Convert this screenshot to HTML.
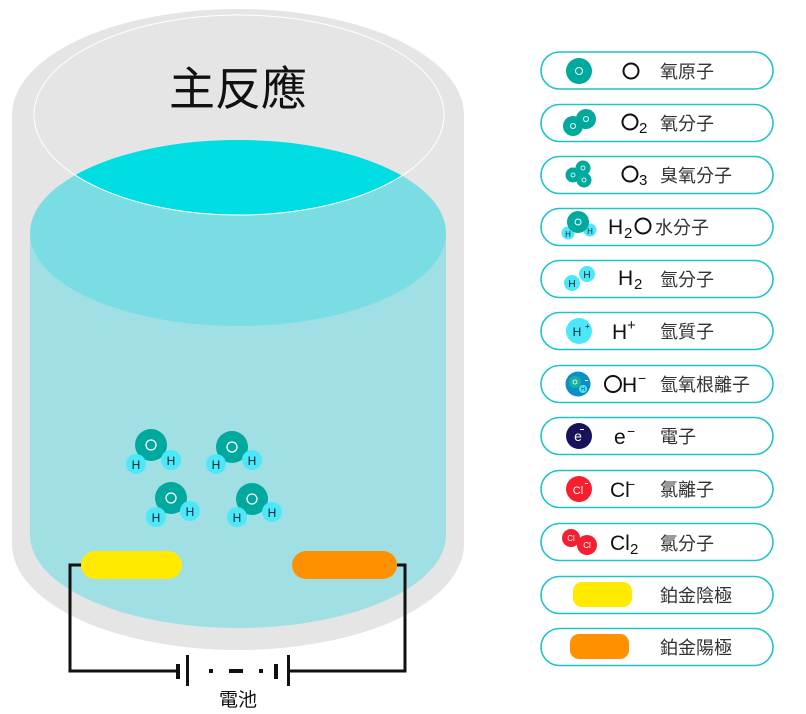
<!DOCTYPE html>
<html><head><meta charset="utf-8"><style>
html,body{margin:0;padding:0;background:#fff;}
svg{display:block;}
text{font-family:"Liberation Sans","Noto Sans CJK TC",sans-serif;}
.cj{font-family:"Noto Sans CJK TC","Liberation Sans",sans-serif;font-size:18px;fill:#333;}
.sy{font-size:21px;fill:#111;}
.box{fill:#fff;stroke:#1fc3c9;stroke-width:1.6;}
</style></head><body>
<svg width="806" height="714" viewBox="0 0 806 714" xmlns="http://www.w3.org/2000/svg">
<defs>
<clipPath id="inner"><ellipse cx="239" cy="115" rx="205" ry="100"/></clipPath>
<g id="wm">
<circle cx="0" cy="0" r="16" fill="#00a99d"/>
<circle cx="0" cy="0" r="5" fill="none" stroke="#fff" stroke-width="1.3"/>
</g>
</defs>
<!-- outer gray cylinder -->
<rect x="12" y="115" width="452" height="429" fill="#e5e5e5"/>
<ellipse cx="238" cy="544" rx="226" ry="106" fill="#e5e5e5"/>
<ellipse cx="238" cy="115" rx="226" ry="106" fill="#e5e5e5"/>
<!-- liquid -->
<rect x="30" y="233" width="416" height="302" fill="#a0e0e5"/>
<ellipse cx="238" cy="535" rx="208" ry="93" fill="#a0e0e5"/>
<ellipse cx="238" cy="233" rx="208" ry="93" fill="#79dde3"/>
<ellipse cx="238" cy="233" rx="208" ry="93" fill="#00dde3" clip-path="url(#inner)"/>
<ellipse cx="239" cy="115" rx="205" ry="100" fill="none" stroke="#fff" stroke-width="1"/>
<text x="238" y="105" text-anchor="middle" style="font-family:'Noto Sans CJK TC',sans-serif;font-size:46px;fill:#111;">主反應</text>
<!-- water molecules -->
<g>
<use href="#wm" x="151" y="445"/><circle cx="136" cy="464" r="10" fill="#4de8f8"/><circle cx="171" cy="460" r="10" fill="#4de8f8"/>
<text x="136" y="469" font-size="12" text-anchor="middle" fill="#123">H</text><text x="171" y="465" font-size="12" text-anchor="middle" fill="#123">H</text>
<use href="#wm" x="232" y="447"/><circle cx="216" cy="464" r="10" fill="#4de8f8"/><circle cx="252" cy="460" r="10" fill="#4de8f8"/>
<text x="216" y="469" font-size="12" text-anchor="middle" fill="#123">H</text><text x="252" y="465" font-size="12" text-anchor="middle" fill="#123">H</text>
<use href="#wm" x="171" y="498"/><circle cx="156" cy="517" r="10" fill="#4de8f8"/><circle cx="190" cy="511" r="10" fill="#4de8f8"/>
<text x="156" y="522" font-size="12" text-anchor="middle" fill="#123">H</text><text x="190" y="516" font-size="12" text-anchor="middle" fill="#123">H</text>
<use href="#wm" x="252" y="499"/><circle cx="237" cy="517" r="10" fill="#4de8f8"/><circle cx="272" cy="512" r="10" fill="#4de8f8"/>
<text x="237" y="522" font-size="12" text-anchor="middle" fill="#123">H</text><text x="272" y="517" font-size="12" text-anchor="middle" fill="#123">H</text>
</g>
<!-- wires & battery -->
<polyline points="81,565 70,565 70,671 178,671" fill="none" stroke="#111" stroke-width="3"/>
<polyline points="397,565 405,565 405,671 288,671" fill="none" stroke="#111" stroke-width="3"/>
<rect x="81" y="551" width="101" height="28" rx="14" fill="#ffea00"/>
<rect x="292" y="551" width="105" height="28" rx="14" fill="#ff9100"/>
<rect x="176" y="664" width="4" height="15" fill="#111"/>
<rect x="186" y="655" width="3" height="31" fill="#111"/>
<rect x="209" y="669" width="4" height="4" fill="#111"/>
<rect x="229" y="669" width="14" height="4" fill="#111"/>
<rect x="259" y="669" width="4" height="4" fill="#111"/>
<rect x="274" y="664" width="4" height="15" fill="#111"/>
<rect x="287" y="655" width="3" height="31" fill="#111"/>
<text x="238" y="706" text-anchor="middle" style="font-family:'Noto Sans CJK TC',sans-serif;font-size:19px;fill:#111;">電池</text>
<!-- legend -->
<g>
<rect class="box" x="541" y="52" width="232" height="37" rx="18.5"/>
<rect class="box" x="541" y="104.5" width="232" height="37" rx="18.5"/>
<rect class="box" x="541" y="156.5" width="232" height="37" rx="18.5"/>
<rect class="box" x="541" y="208.5" width="232" height="37" rx="18.5"/>
<rect class="box" x="541" y="260.5" width="232" height="37" rx="18.5"/>
<rect class="box" x="541" y="312.5" width="232" height="37" rx="18.5"/>
<rect class="box" x="541" y="365.5" width="232" height="37" rx="18.5"/>
<rect class="box" x="541" y="417.5" width="232" height="37" rx="18.5"/>
<rect class="box" x="541" y="470.5" width="232" height="37" rx="18.5"/>
<rect class="box" x="541" y="523.5" width="232" height="37" rx="18.5"/>
<rect class="box" x="541" y="576.5" width="232" height="37" rx="18.5"/>
<rect class="box" x="541" y="628.5" width="232" height="37" rx="18.5"/>
</g>
<!-- row1 O -->
<circle cx="579" cy="71" r="13" fill="#00a99d"/><circle cx="579" cy="71" r="3.5" fill="none" stroke="#fff" stroke-width="1"/>
<circle cx="631" cy="71" r="7.5" fill="none" stroke="#111" stroke-width="2"/>
<text class="cj" x="660" y="78">氧原子</text>
<!-- row2 O2 -->
<circle cx="586" cy="119" r="10" fill="#00a99d"/><circle cx="573" cy="126" r="10" fill="#00a99d"/>
<circle cx="586" cy="119" r="2.5" fill="none" stroke="#fff" stroke-width="1"/><circle cx="573" cy="126" r="2.5" fill="none" stroke="#fff" stroke-width="1"/>
<circle cx="630" cy="122" r="7.5" fill="none" stroke="#111" stroke-width="2"/>
<text x="639" y="133" font-size="15" fill="#111">2</text>
<text class="cj" x="660" y="130">氧分子</text>
<!-- row3 O3 -->
<circle cx="583" cy="168" r="7.5" fill="#00a99d"/><circle cx="573" cy="175" r="7.5" fill="#00a99d"/><circle cx="584" cy="180" r="7.5" fill="#00a99d"/>
<circle cx="583" cy="168" r="2" fill="none" stroke="#fff" stroke-width="0.8"/><circle cx="573" cy="175" r="2" fill="none" stroke="#fff" stroke-width="0.8"/><circle cx="584" cy="180" r="2" fill="none" stroke="#fff" stroke-width="0.8"/>
<circle cx="630" cy="174" r="7.5" fill="none" stroke="#111" stroke-width="2"/>
<text x="639" y="185" font-size="15" fill="#111">3</text>
<text class="cj" x="660" y="182">臭氧分子</text>
<!-- row4 H2O -->
<circle cx="568" cy="233" r="6.5" fill="#4de8f8"/><circle cx="590" cy="230" r="6.5" fill="#4de8f8"/>
<circle cx="578" cy="222" r="11" fill="#00a99d"/><circle cx="578" cy="222" r="3" fill="none" stroke="#fff" stroke-width="1"/>
<text x="568" y="237" font-size="8" text-anchor="middle" fill="#123">H</text><text x="590" y="234" font-size="8" text-anchor="middle" fill="#123">H</text>
<text x="608" y="234" font-size="21" fill="#111">H</text><text x="624" y="238" font-size="15" fill="#111">2</text>
<circle cx="643" cy="226" r="7.5" fill="none" stroke="#111" stroke-width="2"/>
<text class="cj" x="655" y="234">水分子</text>
<!-- row5 H2 -->
<circle cx="587" cy="274" r="8" fill="#4de8f8"/><circle cx="572" cy="283" r="8" fill="#4de8f8"/>
<text x="587" y="278" font-size="10" text-anchor="middle" fill="#123">H</text><text x="572" y="287" font-size="10" text-anchor="middle" fill="#123">H</text>
<text x="618" y="285" font-size="21" fill="#111">H</text><text x="634" y="289" font-size="15" fill="#111">2</text>
<text class="cj" x="660" y="286">氫分子</text>
<!-- row6 H+ -->
<circle cx="579" cy="331" r="13" fill="#4de8f8"/>
<text x="577" y="336" font-size="12" text-anchor="middle" fill="#123">H</text><text x="585" y="329" font-size="8" fill="#123">+</text>
<text x="612" y="339" font-size="21" fill="#111">H</text><text x="627" y="330" font-size="15" fill="#111">+</text>
<text class="cj" x="660" y="338">氫質子</text>
<!-- row7 OH- -->
<circle cx="578" cy="384" r="12.5" fill="#0a8fc8"/>
<circle cx="575" cy="382" r="6" fill="#1ab0a0"/><circle cx="575" cy="382" r="2" fill="none" stroke="#fff" stroke-width="0.8"/>
<circle cx="583" cy="389" r="4" fill="#4de8f8"/><text x="583" y="391" font-size="5" text-anchor="middle" fill="#123">H</text>
<rect x="585" y="380" width="3" height="1" fill="#fff"/>
<circle cx="613" cy="384" r="8" fill="none" stroke="#111" stroke-width="2"/>
<text x="622" y="392" font-size="21" fill="#111">H</text><text x="638" y="383" font-size="14" fill="#111">−</text>
<text class="cj" x="660" y="391">氫氧根離子</text>
<!-- row8 e- -->
<circle cx="579" cy="436" r="13" fill="#18125a"/>
<text x="578" y="441" font-size="14" text-anchor="middle" fill="#fff">e</text><rect x="580" y="429" width="4" height="1" fill="#fff"/>
<text x="614" y="444" font-size="21" fill="#111">e</text><text x="627" y="436" font-size="14" fill="#111">−</text>
<text class="cj" x="660" y="443">電子</text>
<!-- row9 Cl- -->
<circle cx="579" cy="489" r="13" fill="#f42030"/>
<text x="578" y="494" font-size="11" text-anchor="middle" fill="#fff">Cl</text><rect x="585" y="483" width="3" height="1" fill="#fff"/>
<text x="610" y="497" font-size="21" fill="#111">Cl</text><text x="627" y="489" font-size="14" fill="#111">−</text>
<text class="cj" x="660" y="496">氯離子</text>
<!-- row10 Cl2 -->
<circle cx="571" cy="538" r="9" fill="#f42030"/><circle cx="587" cy="545" r="10" fill="#f42030"/>
<text x="571" y="541" font-size="8" text-anchor="middle" fill="#fff">Cl</text><text x="587" y="548" font-size="8" text-anchor="middle" fill="#fff">Cl</text>
<text x="610" y="550" font-size="21" fill="#111">Cl</text><text x="630" y="554" font-size="15" fill="#111">2</text>
<text class="cj" x="660" y="550">氯分子</text>
<!-- row11,12 -->
<rect x="573" y="582" width="59" height="25" rx="9" fill="#ffea00"/>
<text class="cj" x="660" y="602">鉑金陰極</text>
<rect x="570" y="634" width="59" height="25" rx="9" fill="#ff9100"/>
<text class="cj" x="660" y="654">鉑金陽極</text>
</svg>
</body></html>
